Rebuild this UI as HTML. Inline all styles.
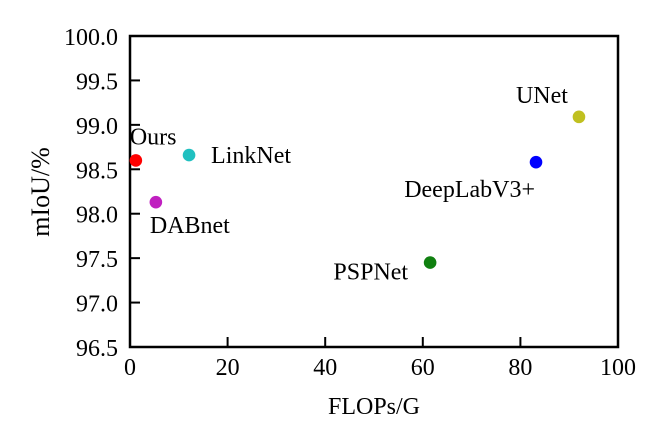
<!DOCTYPE html>
<html><head><meta charset="utf-8"><style>
html,body{margin:0;padding:0;background:#fff;}
svg{display:block;font-family:"Liberation Serif",serif;}
</style></head><body>
<svg id="chart" width="650" height="427">
</svg>
<script>
const models = ["Ours","LinkNet","DABnet","PSPNet","DeepLabV3+","UNet"];
const flops = [1.2,12.1,5.3,61.5,83.2,92.0];
const miou = [98.60,98.66,98.13,97.45,98.58,99.09];
const colors = ["#ff0000","#20c0c0","#c020c0","#108010","#0000ff","#c0c020"];
const xTicks = [0,20,40,60,80,100];
const yTicks = [96.5,97.0,97.5,98.0,98.5,99.0,99.5,100.0];

const L=130,R=618,T=36,B=347;
const xs=v=>L+(v-0)/100*(R-L);
const ys=v=>B-(v-96.5)/3.5*(B-T);
const NS="http://www.w3.org/2000/svg";
const svg=document.getElementById('chart');
function mk(tag,attrs,txt){const e=document.createElementNS(NS,tag);for(const k in attrs)e.setAttribute(k,attrs[k]);if(txt!==undefined)e.textContent=txt;svg.appendChild(e);return e;}

xTicks.forEach(t=>{
  const l=mk('line',{x1:xs(t),x2:xs(t),y1:B,y2:B-10,stroke:'#000','stroke-width':2});
  
  
  const tx=mk('text',{x:xs(t),y:375,'text-anchor':'middle','font-size':24},String(t));
  
  
});
yTicks.forEach(t=>{
  const l=mk('line',{x1:L,x2:L+10,y1:ys(t),y2:ys(t),stroke:'#000','stroke-width':2});
  
  
  const tx=mk('text',{x:118,y:ys(t)+9,'text-anchor':'end','font-size':24},t.toFixed(1));
  
  
});
const frame=mk('rect',{x:L,y:T,width:R-L,height:B-T,fill:'none',stroke:'#000','stroke-width':2.5});



const xt=mk('text',{x:374,y:414,'text-anchor':'middle','font-size':24},'FLOPs/G');


const yt=mk('text',{x:0,y:0,'text-anchor':'middle','font-size':26,transform:'translate(49,192) rotate(-90)'},'mIoU/%');



const labOff=[[-6,-16,'start'],[22,8,'start'],[-6,31,'start'],[-22,17,'end'],[-1,35,'end'],[-11,-14,'end']];
models.forEach((m,i)=>{
  const cx=xs(flops[i]),cy=ys(miou[i]);
  const c=mk('circle',{cx:cx,cy:cy,r:6.3,fill:colors[i]});
  
  
  const o=labOff[i];
  const t=mk('text',{x:cx+o[0],y:cy+o[1],'text-anchor':o[2],'font-size':24},m);
  
  
});
</script>
</body></html>
